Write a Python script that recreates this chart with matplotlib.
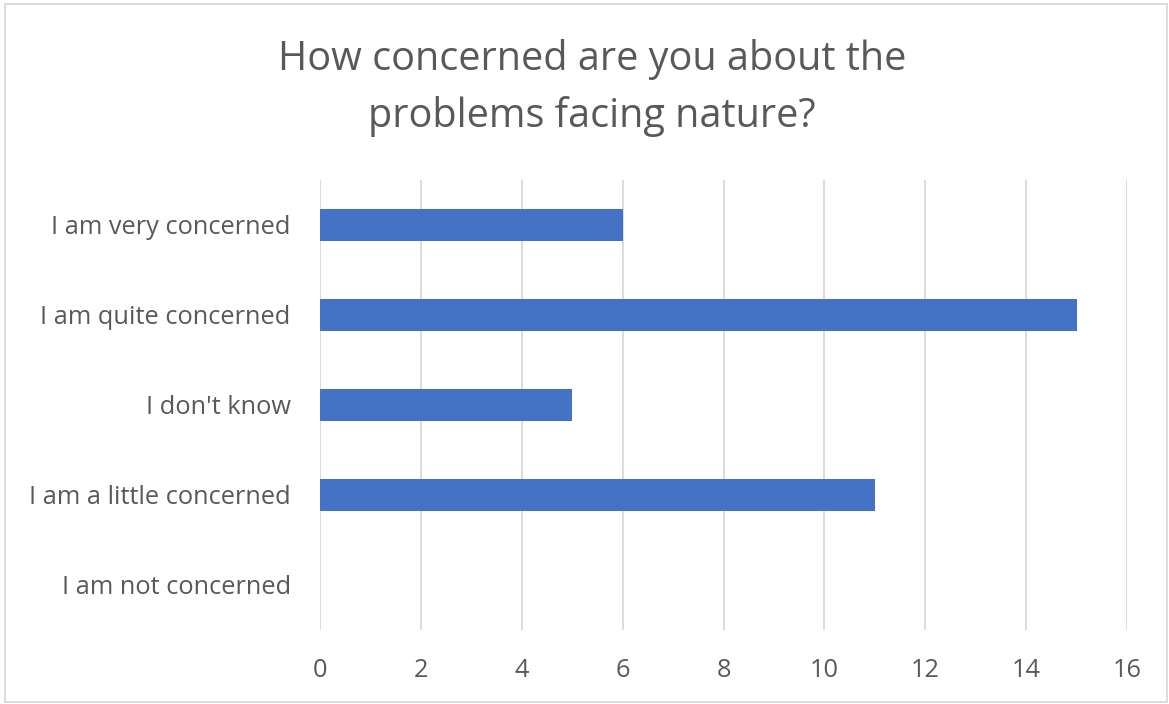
import matplotlib
matplotlib.use("Agg")
import matplotlib.pyplot as plt
from matplotlib.patches import Rectangle

categories = ["I am very concerned", "I am quite concerned", "I don't know",
              "I am a little concerned", "I am not concerned"]
values = [6, 15, 5, 11, 0]
xticks = [0, 2, 4, 6, 8, 10, 12, 14, 16]
title = "How concerned are you about the\nproblems facing nature?"

plt.rcParams['font.family'] = ['Open Sans', 'DejaVu Sans']
TXT = '#595959'

fig = plt.figure(figsize=(11.69, 7.04), dpi=100)
ax = fig.add_axes([320/1169, 1-630/704, (1127-320)/1169, 450/704])

ypos = list(range(len(categories)))
ax.barh(ypos, values, height=0.36, color='#4472C4', zorder=3)
ax.set_ylim(len(categories)-0.5, -0.5)
ax.set_xlim(0, 16)
ax.set_xticks(xticks)
ax.set_xticklabels([str(t) for t in xticks])
ax.set_yticks(ypos)
ax.set_yticklabels(categories)
ax.tick_params(axis='both', length=0, labelsize=18.3, colors=TXT)
ax.tick_params(axis='x', pad=20)
ax.tick_params(axis='y', pad=21)
ax.grid(axis='x', color='#D9D9D9', linewidth=1.3, zorder=0)
for s in ax.spines.values():
    s.set_visible(False)

fig.text(592/1169, 1-88/704, title, ha='center', va='center',
         fontsize=28.5, color=TXT, linespacing=1.52)

fig.patches.append(Rectangle((5/1169, 2/704), 1162/1169, 698/704,
                             transform=fig.transFigure, fill=False,
                             edgecolor='#D9D9D9', linewidth=1.3))

fig.savefig('out.png', dpi=100)
